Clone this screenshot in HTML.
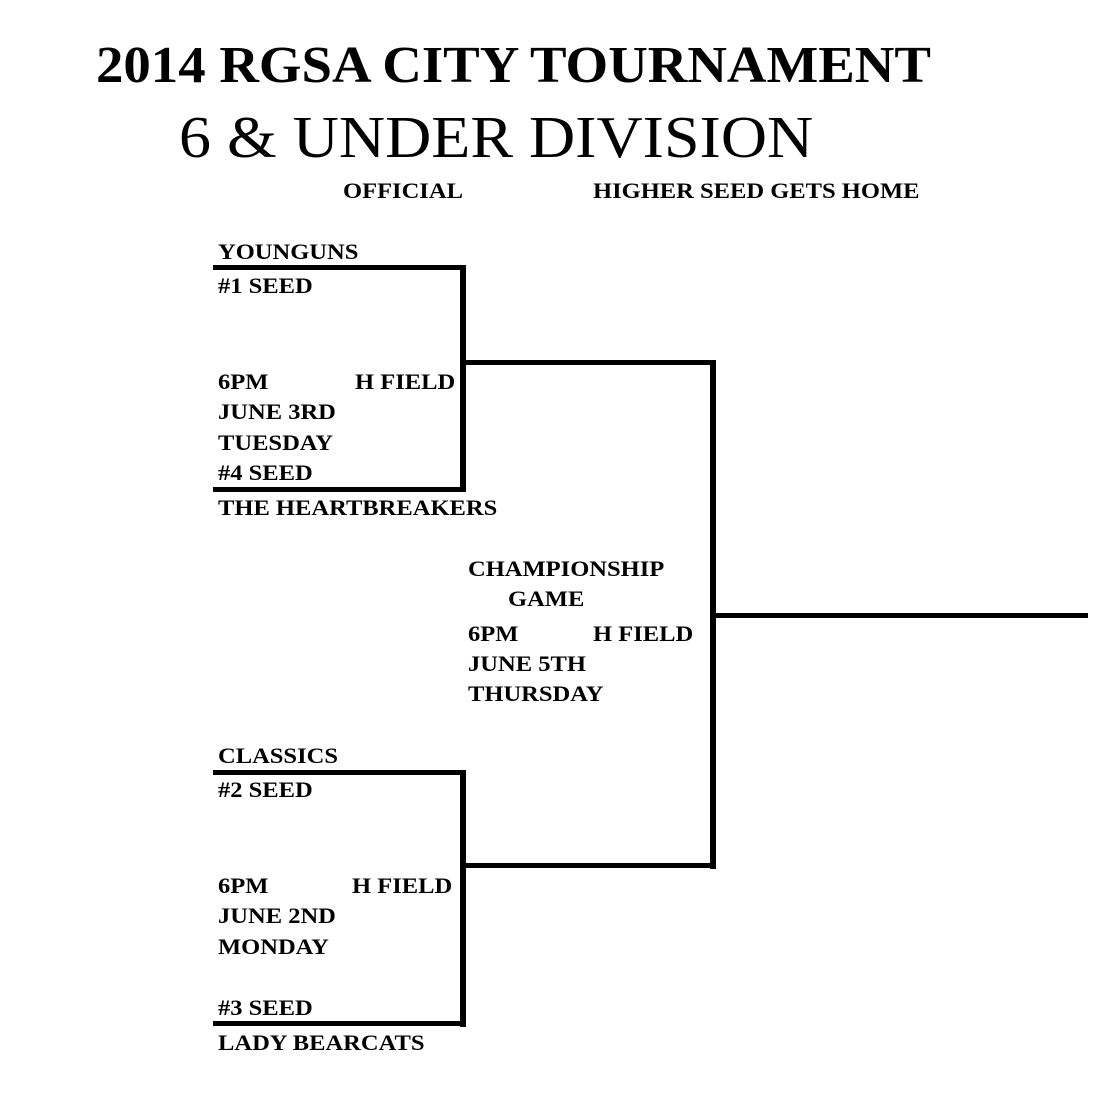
<!DOCTYPE html>
<html><head><meta charset="utf-8"><style>
html,body{margin:0;padding:0;background:#fff;}
body{width:1101px;height:1119px;position:relative;overflow:hidden;font-family:"Liberation Serif",serif;color:#000;}
.t{position:absolute;white-space:nowrap;line-height:1;font-weight:bold;font-size:22px;transform:scaleX(1.115);transform-origin:0 0;}
.l{position:absolute;background:#000;}
</style></head><body>
<div class="t" style="left:96px;top:40px;font-size:52px;transform:scaleX(1.054);">2014 RGSA CITY TOURNAMENT</div>
<div class="t" style="left:179px;top:108px;font-size:59px;font-weight:normal;transform:scaleX(1.084);">6 &amp; UNDER DIVISION</div>
<div class="t" style="left:343px;top:180px;">OFFICIAL</div>
<div class="t" style="left:593px;top:180px;">HIGHER SEED GETS HOME</div>

<div class="t" style="left:218px;top:241px;">YOUNGUNS</div>
<div class="t" style="left:218px;top:275px;">#1 SEED</div>
<div class="t" style="left:218px;top:371px;">6PM</div>
<div class="t" style="left:355px;top:371px;">H FIELD</div>
<div class="t" style="left:218px;top:401px;">JUNE 3RD</div>
<div class="t" style="left:218px;top:432px;">TUESDAY</div>
<div class="t" style="left:218px;top:462px;">#4 SEED</div>
<div class="t" style="left:218px;top:497px;">THE HEARTBREAKERS</div>

<div class="t" style="left:468px;top:558px;">CHAMPIONSHIP</div>
<div class="t" style="left:508px;top:588px;">GAME</div>
<div class="t" style="left:468px;top:623px;">6PM</div>
<div class="t" style="left:593px;top:623px;">H FIELD</div>
<div class="t" style="left:468px;top:653px;">JUNE 5TH</div>
<div class="t" style="left:468px;top:683px;">THURSDAY</div>

<div class="t" style="left:218px;top:745px;">CLASSICS</div>
<div class="t" style="left:218px;top:779px;">#2 SEED</div>
<div class="t" style="left:218px;top:875px;">6PM</div>
<div class="t" style="left:352px;top:875px;">H FIELD</div>
<div class="t" style="left:218px;top:905px;">JUNE 2ND</div>
<div class="t" style="left:218px;top:936px;">MONDAY</div>
<div class="t" style="left:218px;top:997px;">#3 SEED</div>
<div class="t" style="left:218px;top:1032px;">LADY BEARCATS</div>

<div class="l" style="left:213px;top:265px;width:253px;height:5px;"></div>
<div class="l" style="left:460px;top:265px;width:6px;height:227px;"></div>
<div class="l" style="left:213px;top:487px;width:253px;height:5px;"></div>
<div class="l" style="left:466px;top:360px;width:250px;height:5px;"></div>
<div class="l" style="left:710px;top:360px;width:6px;height:509px;"></div>
<div class="l" style="left:716px;top:613px;width:372px;height:5px;"></div>
<div class="l" style="left:213px;top:770px;width:253px;height:5px;"></div>
<div class="l" style="left:460px;top:770px;width:6px;height:257px;"></div>
<div class="l" style="left:213px;top:1021px;width:253px;height:5px;"></div>
<div class="l" style="left:466px;top:863px;width:250px;height:5px;"></div>
</body></html>
